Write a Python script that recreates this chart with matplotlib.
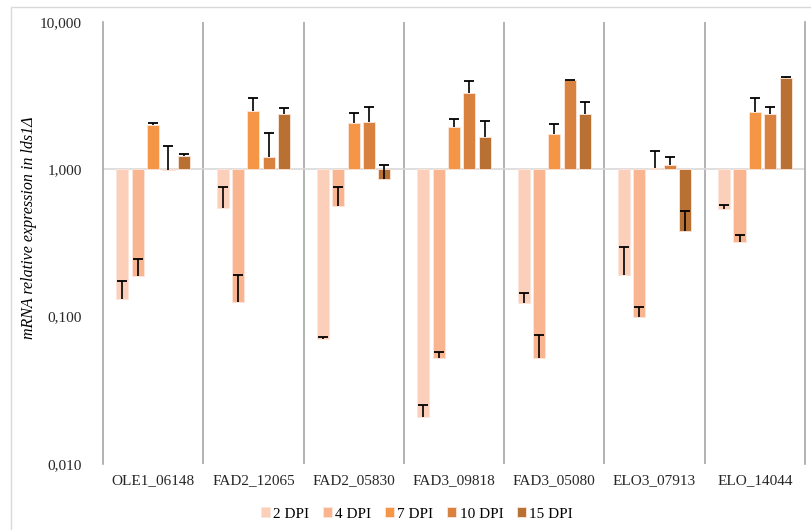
import numpy as np
import matplotlib.pyplot as plt
from matplotlib.patches import Rectangle
from matplotlib.ticker import FixedLocator, FixedFormatter

# gener och tidpunkter
genes = ["OLE1_06148", "FAD2_12065", "FAD2_05830", "FAD3_09818",
         "FAD3_05080", "ELO3_07913", "ELO_14044"]
dpi_labels = ["2 DPI", "4 DPI", "7 DPI", "10 DPI", "15 DPI"]

# relativt uttryck (baslinje 1) per tidpunkt
dpi2 = [0.131, 0.55, 0.0703, 0.0207, 0.124, 0.191, 0.538]
dpi4 = [0.189, 0.126, 0.567, 0.0526, 0.0526, 0.099, 0.321]
dpi7 = [2.01, 2.50, 2.07, 1.93, 1.75, 1.016, 2.46]
dpi10 = [0.985, 1.21, 2.11, 3.31, 4.01, 1.076, 2.37]
dpi15 = [1.24, 2.37, 0.856, 1.67, 2.37, 0.384, 4.20]

# standardavvikelse (bara plus-riktning)
err2 = [0.043, 0.205, 0.003, 0.0043, 0.020, 0.106, 0.035]
err4 = [0.057, 0.067, 0.192, 0.0054, 0.022, 0.018, 0.039]
err7 = [0.05, 0.54, 0.34, 0.28, 0.28, 0.31, 0.60]
err10 = [0.455, 0.55, 0.55, 0.66, 0.05, 0.134, 0.29]
err15 = [0.03, 0.25, 0.214, 0.47, 0.49, 0.141, 0.05]

yticks = [0.01, 0.1, 1, 10]
ytick_labels = ["0,010", "0,100", "1,000", "10,000"]

values = [dpi2, dpi4, dpi7, dpi10, dpi15]
errors = [err2, err4, err7, err10, err15]
colors = ["#fbcfb9", "#f8b58f", "#f59646", "#d98240", "#b87033"]

plt.rcParams['font.family'] = ['Liberation Serif', 'DejaVu Serif']

fig = plt.figure(figsize=(8.11, 5.30), dpi=100)
ax = fig.add_axes([103/811, 1-464/530, 702/811, 442/530])

x = np.arange(len(genes))
w = 0.12
step = 0.153
base = 1.0
for i in range(5):
    v = np.array(values[i])
    e = np.array(errors[i])
    pos = x + (i-2)*step
    ax.bar(pos, v-base, bottom=base, width=w, color=colors[i],
           edgecolor="#fde6dc", linewidth=0.6, label=dpi_labels[i], zorder=2)
    # felstaplar bara uppåt, med ett lock i toppen
    ax.vlines(pos, v, v+e, color="black", linewidth=1.2, zorder=3)
    ax.plot(pos, v+e, linestyle="none", marker="_", markersize=7,
            markeredgewidth=1.3, color="black", zorder=3)

ax.set_yscale("log")
ax.set_ylim(0.01, 10)
ax.set_xlim(-0.5, len(genes)-0.5)
ax.yaxis.set_major_locator(FixedLocator(yticks))
ax.yaxis.set_major_formatter(FixedFormatter(ytick_labels))
ax.yaxis.set_minor_locator(FixedLocator([]))
ax.set_xticks(x)
ax.set_xticklabels(genes)
ax.tick_params(axis="both", length=0, labelsize=11, colors="#262626")
ax.tick_params(axis="x", pad=7)
ax.tick_params(axis="y", pad=15)

# kategorilinjer och baslinje
for b in np.arange(0.5, len(genes)-0.5, 1):
    ax.axvline(b, color="#a6a6a6", linewidth=1.2, zorder=1)
ax.axhline(base, color="#d9d9d9", linewidth=1.2, zorder=1)
for s in ["top", "bottom"]:
    ax.spines[s].set_visible(False)
for s in ["left", "right"]:
    ax.spines[s].set_color("#a6a6a6")
    ax.spines[s].set_linewidth(1.2)

ax.set_ylabel("mRNA relative expression in lds1Δ", fontsize=11.5,
              style="italic")
ax.yaxis.set_label_coords(-0.094, 0.535)

ax.legend(loc="center", bbox_to_anchor=(417/811, 1-514/530),
          bbox_transform=fig.transFigure, ncol=5, frameon=False, fontsize=11,
          handlelength=0.6, handleheight=0.6, handletextpad=0.2,
          columnspacing=0.9)

# ram runt diagrammet
fig.patches.append(Rectangle((11/811, -0.1), 1.2, 1-7/530+0.1,
                             transform=fig.transFigure, fill=False,
                             edgecolor="#d9d9d9", linewidth=1.0))

fig.savefig("out.png", dpi=100)
